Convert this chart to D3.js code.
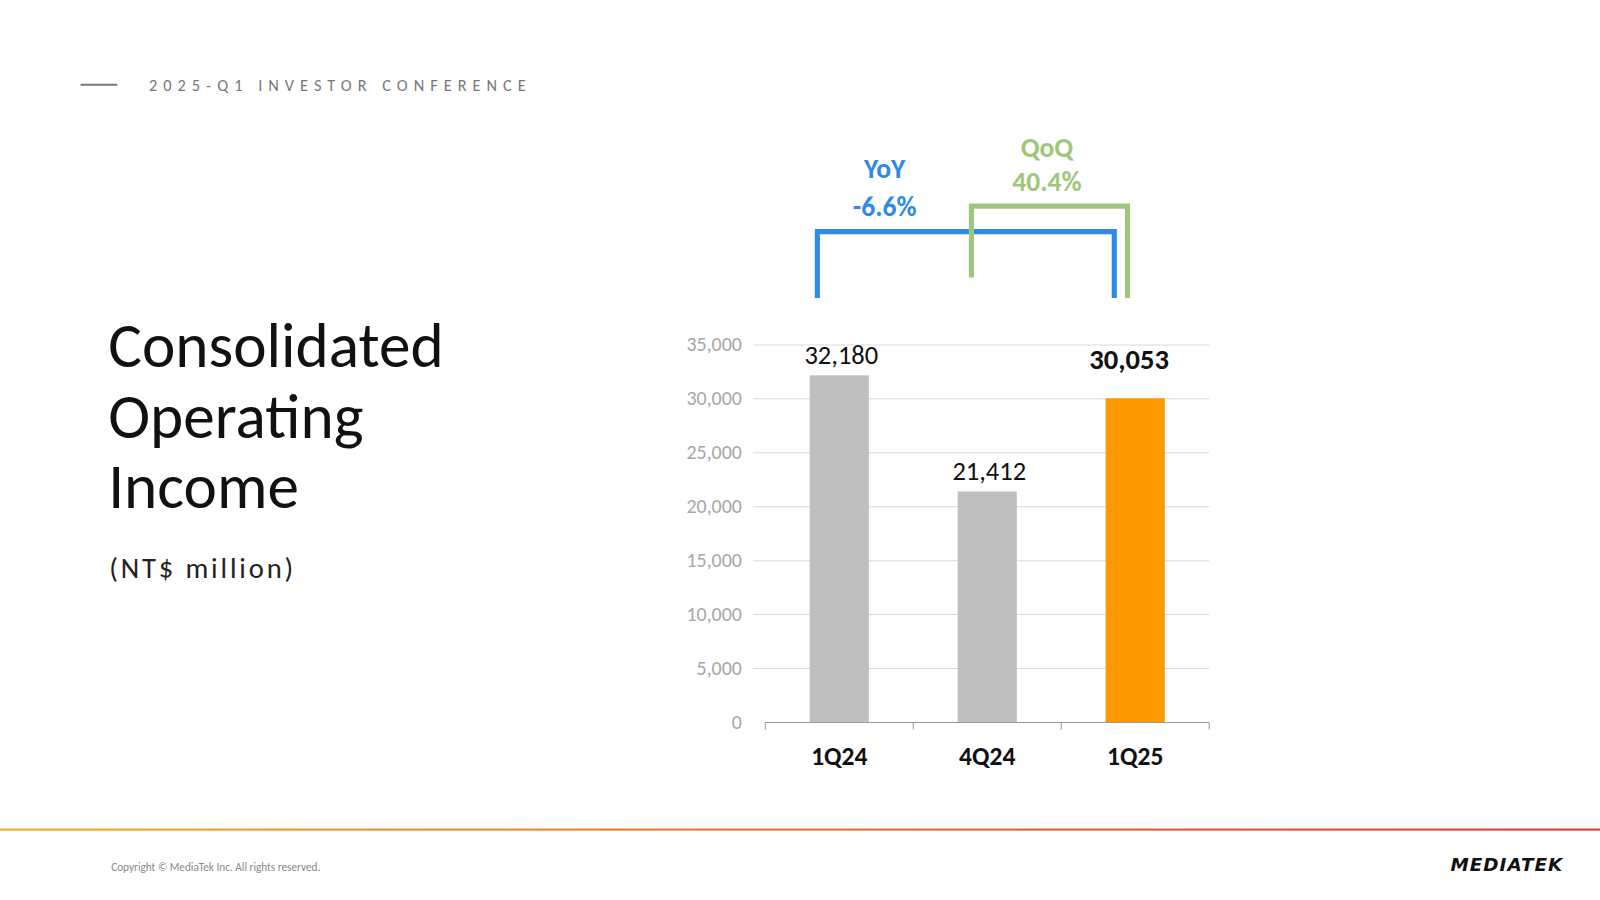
<!DOCTYPE html>
<html><head><meta charset="utf-8">
<script src="https://cdn.jsdelivr.net/npm/d3@7/dist/d3.min.js"></script>
<style>body{margin:0;background:#fff}svg{display:block}</style>
</head><body><svg id="c" width="1600" height="900" viewBox="0 0 1568 882"></svg>
<script>
const categories = ["1Q24","4Q24","1Q25"];
const values = [32180, 21412, 30053];
const valueLabels = ["32,180","21,412","30,053"];
const colors = ["#bfbfbf","#bfbfbf","#ff9900"];
const yTicks = [0,5000,10000,15000,20000,25000,30000,35000];

const svg = d3.select("#c");
const F = "Calibri, Carlito, Lato, sans-serif";
svg.append("rect").attr("width",1568).attr("height",882).attr("fill","#fff");
svg.append("line").attr("x1",79).attr("x2",115).attr("y1",83).attr("y2",83).attr("stroke","#777").attr("stroke-width",2);
svg.append("text").attr("x",146).attr("y",89).text("2025-Q1 INVESTOR CONFERENCE")
  .attr("font-family",F).attr("font-size",16).attr("letter-spacing",5.9).attr("fill","#777");
const t = svg.append("text").attr("font-family",F).attr("font-size",62).attr("fill","#111").attr("font-weight",300);
["Consolidated","Operating","Income"].forEach((s,i)=>t.append("tspan").attr("x",106).attr("y",360+i*69).text(s));
svg.append("text").attr("x",107).attr("y",566).text("(NT$ million)").attr("font-family",F).attr("font-size",28).attr("letter-spacing",2.8).attr("fill","#222");

const x = d3.scaleBand().domain(categories).range([750,1185]).paddingInner(0.6).paddingOuter(0.3);
const xb = d3.scaleBand().domain(categories).range([750,1185]);
const y = d3.scaleLinear().domain([0,35000]).range([708,338]);

svg.append("g").selectAll("line").data(yTicks.slice(1)).join("line")
  .attr("x1",738).attr("x2",1185).attr("y1",d=>y(d)).attr("y2",d=>y(d)).attr("stroke","#d9d9d9");
svg.append("g").selectAll("text").data(yTicks).join("text")
  .attr("x",727).attr("y",d=>y(d)+6).attr("text-anchor","end").text(d=>d3.format(",")(d))
  .attr("font-family",F).attr("font-size",19.5).attr("fill","#a6a6a6");
svg.append("g").selectAll("rect").data(values).join("rect")
  .attr("x",(d,i)=>x(categories[i])).attr("width",x.bandwidth())
  .attr("y",d=>y(d)).attr("height",d=>y(0)-y(d)).attr("fill",(d,i)=>colors[i]);
const ax = svg.append("g").attr("transform","translate(0,708)");
ax.append("line").attr("x1",750).attr("x2",1185).attr("stroke","#999");
ax.selectAll("line.t").data([750,895,1040,1185]).join("line").attr("class","t")
  .attr("x1",d=>d).attr("x2",d=>d).attr("y1",0).attr("y2",7).attr("stroke","#999");
svg.append("g").selectAll("text").data(categories).join("text")
  .attr("x",d=>xb(d)+xb.bandwidth()/2).attr("y",750).attr("text-anchor","middle").text(d=>d)
  .attr("font-family",F).attr("font-size",25).attr("font-weight","bold").attr("fill","#111");
svg.append("g").selectAll("text").data(values).join("text")
  .attr("x",(d,i)=>x(categories[i])+x.bandwidth()/2 + (i==2?-6:2)).attr("y",(d,i)=>y(d)-(i==2?29:11))
  .attr("text-anchor","middle").text((d,i)=>valueLabels[i])
  .attr("font-family",F).attr("font-size",(d,i)=>i==2?28:26).attr("font-weight",(d,i)=>i==2?"bold":"normal").attr("fill","#111");
svg.append("path").attr("d","M801,292 V227 H1092 V292").attr("fill","none").attr("stroke","#2e8ae6").attr("stroke-width",5);
svg.append("path").attr("d","M952,272 V202 H1105 V292").attr("fill","none").attr("stroke","#9dc77a").attr("stroke-width",5);
const lab=(x0,y0,s,c)=>svg.append("text").attr("x",x0).attr("y",y0).attr("text-anchor","middle").text(s).attr("font-family",F).attr("font-size",27).attr("font-weight","bold").attr("fill",c);
lab(867,174,"YoY","#2e8ae6"); lab(867,212,"-6.6%","#2e8ae6");
lab(1026,154,"QoQ","#9dc77a"); lab(1026,187,"40.4%","#9dc77a");
const g = svg.append("defs").append("linearGradient").attr("id","gr");
g.append("stop").attr("offset","0").attr("stop-color","#f5a623");
g.append("stop").attr("offset","1").attr("stop-color","#d9382a");
svg.append("rect").attr("x",0).attr("y",812).attr("width",1568).attr("height",2).attr("fill","url(#gr)");
svg.append("text").attr("x",109).attr("y",854).text("Copyright © MediaTek Inc. All rights reserved.").attr("font-family",F).attr("font-size",11).attr("fill","#888");
svg.append("text").attr("x",1532).attr("y",854).attr("text-anchor","end").text("MEDIATEK").attr("font-family","'DejaVu Sans', sans-serif").attr("font-size",18).attr("font-weight","bold").attr("font-style","italic").attr("letter-spacing",1).attr("fill","#111");
</script></body></html>
